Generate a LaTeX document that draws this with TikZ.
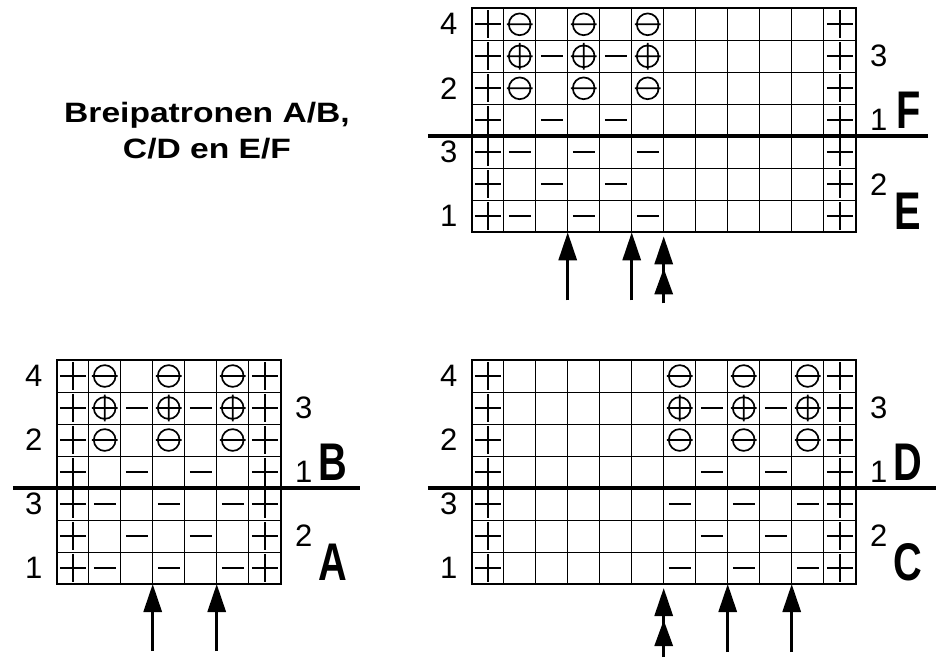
\documentclass[tikz,border=0pt]{standalone}
\usepackage{fontspec}
\setmainfont{Liberation Sans}
\usetikzlibrary{arrows.meta}

\begin{document}
\begin{tikzpicture}[x=1pt,y=-1pt]
\tikzstyle{every node}+=[inner sep=0pt]
\tikzstyle{gridline}=[line width=0.8pt]
\tikzstyle{gridframe}=[line width=2pt]
\tikzstyle{stitch}=[line width=1.7pt]
\tikzstyle{divider}=[line width=4pt]
\tikzstyle{uparrow}=[line width=3pt,-{Triangle[length=28pt,width=18pt]}]
\tikzstyle{dbluparrow}=[line width=3pt,-{Triangle[length=26pt,width=18pt,sep=4pt]Triangle[length=28pt,width=18pt,sep=4pt]}]
\tikzstyle{rownum}=[font=\fontsize{31}{31}\selectfont]
\tikzstyle{chartname}=[font=\fontsize{53}{53}\selectfont\bfseries,xscale=0.75,transform shape]
\tikzstyle{titletext}=[font=\fontsize{28}{28}\selectfont\bfseries,xscale=1.2,transform shape,anchor=base]

\useasboundingbox (0,0) rectangle (936,659);

\node[titletext] (title1) at (207,122) {Breipatronen A/B,};
\node[titletext] (title2) at (207,158) {C/D en E/F};

\foreach \name/\ox/\oy/\w/\s/\ext/\up/\lo in {ef/471.7/8.3/12/0/14.26/F/E, ab/56.7/360/7/0/9.48/B/A, cd/471.7/360/12/5/14.6/D/C}
{
\begin{scope}[shift={(\ox,\oy)},x=32pt,y=-32pt]
\foreach \c in {0,...,\w}
  \draw[gridline] (\c,0) -- (\c,7);
\foreach \r in {0,...,7}
  \draw[gridline] (0,\r) -- (\w,\r);

\foreach \r in {1,...,7}
  \foreach \c in {1,\w}
    \draw[stitch] (\c-0.9,\r-0.5) -- (\c-0.1,\r-0.5) (\c-0.5,\r-0.94) -- (\c-0.5,\r-0.06);

\foreach \r in {1,3}
  \foreach \c in {2,4,6}
    \draw[stitch] (\s+\c-0.5,\r-0.5) circle (0.34) (\s+\c-0.9,\r-0.5) -- (\s+\c-0.1,\r-0.5);

\foreach \c in {2,4,6}
  \draw[stitch] (\s+\c-0.5,1.5) circle (0.34) (\s+\c-0.9,1.5) -- (\s+\c-0.1,1.5) (\s+\c-0.5,1.08) -- (\s+\c-0.5,1.92);

\foreach \r in {2,4,6}
  \foreach \c in {3,5}
    \draw[stitch] (\s+\c-0.84,\r-0.5) -- (\s+\c-0.16,\r-0.5);

\foreach \r in {5,7}
  \foreach \c in {2,4,6}
    \draw[stitch] (\s+\c-0.84,\r-0.5) -- (\s+\c-0.16,\r-0.5);

\draw[divider] (-1.37,4) -- (\ext,4);
\draw[gridframe] (0,0) rectangle (\w,7);

\foreach \c in {0,...,\w}
  \coordinate (\name-\c) at (\c,7);

\node[rownum] (\name-l4) at (-0.72,0.5) {4};
\node[rownum] (\name-l2) at (-0.72,2.5) {2};
\node[rownum] (\name-l3) at (-0.72,4.5) {3};
\node[rownum] (\name-l1) at (-0.72,6.5) {1};
\node[rownum] (\name-r3) at (\w+0.72,1.5) {3};
\node[rownum] (\name-r1) at (\w+0.72,3.5) {1};
\node[rownum] (\name-r2) at (\w+0.72,5.5) {2};
\node[chartname] (\name-up) at (\w+1.64,3.2) {\up};
\node[chartname] (\name-lo) at (\w+1.64,6.33) {\lo};
\end{scope}
}

\path (ef-3) ++(0,68) coordinate (ef-3t);
\path (ef-5) ++(0,68) coordinate (ef-5t);
\path (ef-6) ++(0,71) coordinate (ef-6t);
\draw[uparrow] (ef-3t) -- (ef-3);
\draw[uparrow] (ef-5t) -- (ef-5);
\draw[dbluparrow] (ef-6t) -- (ef-6);

\path (ab-3) ++(0,67) coordinate (ab-3t);
\path (ab-5) ++(0,67) coordinate (ab-5t);
\draw[uparrow] (ab-3t) -- (ab-3);
\draw[uparrow] (ab-5t) -- (ab-5);

\path (cd-6) ++(0,73) coordinate (cd-6t);
\path (cd-8) ++(0,68) coordinate (cd-8t);
\path (cd-10) ++(0,68) coordinate (cd-10t);
\draw[dbluparrow] (cd-6t) -- (cd-6);
\draw[uparrow] (cd-8t) -- (cd-8);
\draw[uparrow] (cd-10t) -- (cd-10);
\end{tikzpicture}
\end{document}
